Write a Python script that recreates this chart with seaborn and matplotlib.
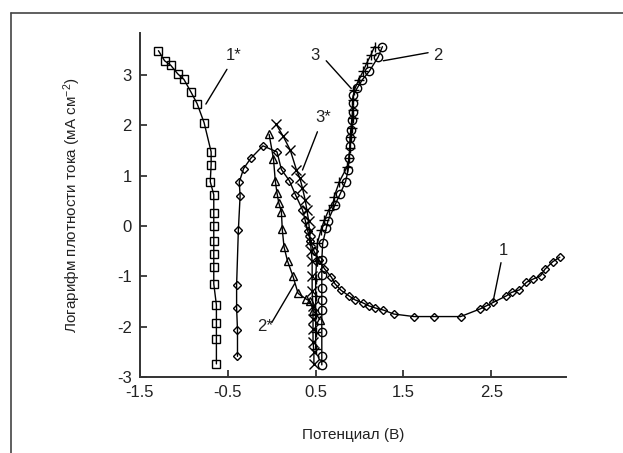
import numpy as np
import pandas as pd
import matplotlib
matplotlib.use("Agg")
import matplotlib.pyplot as plt
from matplotlib.lines import Line2D
import seaborn as sns

# curve 1* (squares)
x1s = [-1.29, -1.22, -1.15, -1.07, -1.00, -0.92, -0.85, -0.77, -0.69, -0.69, -0.70,
       -0.66, -0.66, -0.66, -0.66, -0.66, -0.66, -0.66, -0.63, -0.63, -0.63, -0.63]
y1s = [3.48, 3.28, 3.19, 3.02, 2.91, 2.66, 2.43, 2.05, 1.47, 1.21, 0.88,
       0.62, 0.25, -0.01, -0.29, -0.56, -0.82, -1.15, -1.57, -1.93, -2.25, -2.74]

# curve 1 (diamonds)
x1 = [-0.39, -0.39, -0.40, -0.40, -0.38, -0.36, -0.37, -0.32, -0.24, -0.10,
      0.06, 0.11, 0.20, 0.27, 0.35, 0.38, 0.41, 0.44, 0.48, 0.54, 0.60,
      0.68, 0.72, 0.79, 0.88, 0.95, 1.04, 1.11, 1.18, 1.27, 1.39, 1.62, 1.85, 2.15,
      2.37, 2.44, 2.52, 2.67, 2.73, 2.82, 2.90, 2.97, 3.06, 3.11, 3.20, 3.28]
y1 = [-2.59, -2.06, -1.63, -1.17, -0.08, 0.60, 0.87, 1.14, 1.34, 1.59,
      1.47, 1.12, 0.90, 0.62, 0.32, 0.12, -0.10, -0.30, -0.50, -0.68, -0.85,
      -1.02, -1.15, -1.28, -1.39, -1.47, -1.53, -1.59, -1.63, -1.67, -1.75, -1.80, -1.80, -1.80,
      -1.65, -1.59, -1.52, -1.39, -1.32, -1.27, -1.12, -1.06, -0.99, -0.86, -0.71, -0.62]

# curve 2* (triangles)
x2s = [-0.03, 0.02, 0.04, 0.06, 0.08, 0.11, 0.12, 0.14, 0.18, 0.24, 0.30, 0.39, 0.44, 0.47, 0.55]
y2s = [1.82, 1.33, 0.90, 0.65, 0.46, 0.28, -0.07, -0.42, -0.70, -0.99, -1.34, -1.45, -1.50, -1.68, -1.86]

# curve 2 (circles)
x2 = [0.57, 0.57, 0.57, 0.57, 0.57, 0.57, 0.57, 0.57, 0.58, 0.62, 0.64, 0.72, 0.78,
      0.84, 0.87, 0.88, 0.89, 0.89, 0.90, 0.91, 0.92, 0.92, 0.93, 0.97, 1.03, 1.11, 1.21, 1.26]
y2 = [-2.76, -2.58, -2.10, -1.67, -1.47, -1.24, -0.97, -0.68, -0.34, -0.05, 0.10, 0.42, 0.64,
      0.88, 1.11, 1.35, 1.58, 1.74, 1.91, 2.10, 2.27, 2.44, 2.60, 2.73, 2.90, 3.07, 3.35, 3.56]

# curve 3 (plus)
x3 = [0.50, 0.50, 0.50, 0.50, 0.50, 0.51, 0.52, 0.56, 0.60, 0.65, 0.70, 0.71, 0.77,
      0.86, 0.88, 0.89, 0.90, 0.91, 0.92, 0.92, 0.92, 0.94, 0.99, 1.04, 1.08, 1.13, 1.17]
y3 = [-2.45, -2.10, -1.75, -1.40, -1.05, -0.70, -0.34, -0.08, 0.12, 0.32, 0.42, 0.58, 0.88,
      1.18, 1.35, 1.55, 1.76, 1.94, 2.14, 2.30, 2.50, 2.70, 2.90, 3.07, 3.23, 3.40, 3.56]

# curve 3* (crosses)
x3s = [0.05, 0.13, 0.21, 0.28, 0.32, 0.35, 0.38, 0.40, 0.42, 0.43, 0.44, 0.45,
       0.46, 0.46, 0.46, 0.47, 0.47, 0.47, 0.47, 0.48, 0.48]
y3s = [2.02, 1.78, 1.51, 1.12, 0.95, 0.75, 0.52, 0.32, 0.10, -0.10, -0.30, -0.50,
       -0.70, -1.00, -1.30, -1.60, -1.85, -2.05, -2.30, -2.50, -2.75]

# curve labels: text position, leader line start, leader line end
lab_text = ["1*", "2*", "3*", "3", "2", "1"]
lab_pos = [(-0.43, 3.38), (-0.08, -2.0), (0.58, 2.16), (0.49, 3.38), (1.89, 3.38), (2.64, -0.48)]
lab_from = [(-0.51, 3.11), (0.00, -1.92), (0.52, 1.87), (0.62, 3.28), (1.78, 3.44), (2.61, -0.73)]
lab_to = [(-0.75, 2.42), (0.26, -1.15), (0.35, 1.11), (0.905, 2.73), (1.27, 3.28), (2.52, -1.50)]

sns.set_style("ticks")
plt.rcParams["font.family"] = ["Liberation Sans", "DejaVu Sans"]
plt.rcParams["mathtext.default"] = "regular"
plt.rcParams["axes.unicode_minus"] = False

fig = plt.figure(figsize=(6.23, 4.53), dpi=100)
ax = fig.add_axes([0.2247, 0.1678, 0.6838, 0.7592])

curves = [(x1s, y1s, "s", 5.5), (x1, y1, "D", 4.5), (x2s, y2s, "^", 6),
          (x2, y2, "o", 6), (x3, y3, "+", 7.5), (x3s, y3s, "x", 7)]
for xs, ys, mk, ms in curves:
    sns.lineplot(x=xs, y=ys, sort=False, estimator=None, ax=ax, color="black",
                 linewidth=1.0, marker=mk, markersize=ms, markerfacecolor="none",
                 markeredgecolor="black", markeredgewidth=1.0)

for t, p, a, b in zip(lab_text, lab_pos, lab_from, lab_to):
    ax.text(p[0], p[1], t, fontsize=12, ha="center", va="center", color="#222222")
    ax.plot([a[0], b[0]], [a[1], b[1]], color="black", linewidth=1.0)

ax.set_xlim(-1.5, 3.35)
ax.set_ylim(-3, 3.83)
ax.set_xticks([-1.5, -0.5, 0.5, 1.5, 2.5])
ax.set_xticklabels(["-1.5", "-0.5", "0.5", "1.5", "2.5"])
ax.set_yticks([-3, -2, -1, 0, 1, 2, 3])
ax.tick_params(direction="in", length=5, width=1.2, labelsize=12, colors="#222222", pad=6)
for s in ["top", "right"]:
    ax.spines[s].set_visible(False)
for s in ["left", "bottom"]:
    ax.spines[s].set_linewidth(1.4)
    ax.spines[s].set_color("#333333")

ax.set_xlabel("Потенциал (В)", fontsize=11, labelpad=20, color="#222222")
ax.set_ylabel("Логарифм плотности тока (мА см$^{-2}$)", fontsize=11, labelpad=24, color="#222222")

# outer frame of the original figure
fig.add_artist(Line2D([10.5 / 623, 10.5 / 623], [0, 1 - 12.7 / 453], transform=fig.transFigure,
                      color="#444444", linewidth=1.2))
fig.add_artist(Line2D([10.5 / 623, 1], [1 - 12.7 / 453, 1 - 12.7 / 453], transform=fig.transFigure,
                      color="#444444", linewidth=1.2))

fig.savefig("out.png", dpi=100)
